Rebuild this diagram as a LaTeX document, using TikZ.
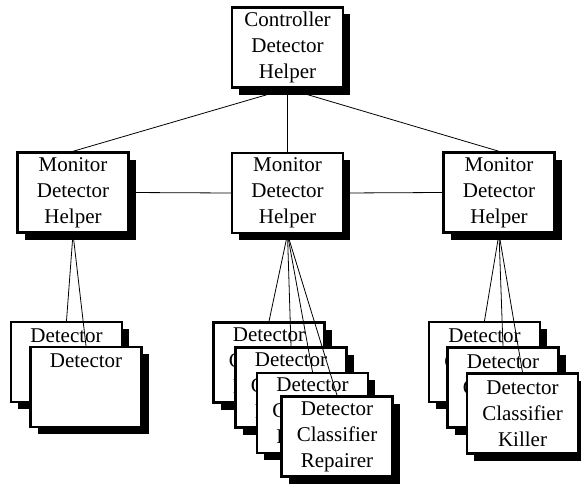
\documentclass[tikz,border=0pt]{standalone}
\usepackage{fontspec}
\setmainfont{Liberation Serif}
\usetikzlibrary{shadows}

\tikzset{
  agent/.style={draw, line width=2.4pt, fill=white, minimum width=111pt,
    minimum height=80pt, inner sep=0pt, align=center,
    font=\fontsize{21}{26}\selectfont,
    drop shadow={shadow xshift=7pt, shadow yshift=-7pt, opacity=1, fill=black}},
  link/.style={line width=0.8pt}
}

\begin{document}
\begin{tikzpicture}[x=1pt, y=-1pt]
      \useasboundingbox (0,0) rectangle (581,487);
      \node[agent] (ctrl) at (287.5,47.5) {Controller\\Detector\\Helper};
      \node[agent] (monL) at (73,192.5) {Monitor\\Detector\\Helper};
      \node[agent] (monM) at (287.5,193) {Monitor\\Detector\\Helper};
      \node[agent] (monR) at (499,192.5) {Monitor\\Detector\\Helper};
      % left stack
      \node[agent] (detL1) at (66.5,362) {Detector\\\mbox{}\\\mbox{}};
      \node[agent] (detL2) at (86,387) {Detector\\\mbox{}\\\mbox{}};
      % middle stack
      \node[agent] (detM1) at (269,362.5) {Detector\\Classifier\\Repairer};
      \node[agent] (detM2) at (291,387.5) {Detector\\Classifier\\Repairer};
      \node[agent] (detM3) at (312.5,413) {Detector\\Classifier\\Repairer};
      \node[agent] (detM4) at (337,436.5) {Detector\\Classifier\\Repairer};
      % right stack
      \node[agent] (detR1) at (484.5,362) {Detector\\Classifier\\Killer};
      \node[agent] (detR2) at (503,387.5) {Detector\\Classifier\\Killer};
      \node[agent] (detR3) at (522.5,413.5) {Detector\\Classifier\\Killer};
      \draw [link] (ctrl.south) -- (monL.north); % controller -> monitors
      \draw [link] (ctrl.south) -- (monM.north);
      \draw [link] (ctrl.south) -- (monR.north);
      \draw [link] (monL.east) -- (monM.west); % monitor -- monitor
      \draw [link] (monM.east) -- (monR.west);
      \foreach \d in {detL1,detL2} \draw [link] (monL.south) -- (\d.north);
      \foreach \d in {detM1,detM2,detM3,detM4} \draw [link] (monM.south) -- (\d.north);
      \foreach \d in {detR1,detR2,detR3} \draw [link] (monR.south) -- (\d.north);
    \end{tikzpicture}
\end{document}
